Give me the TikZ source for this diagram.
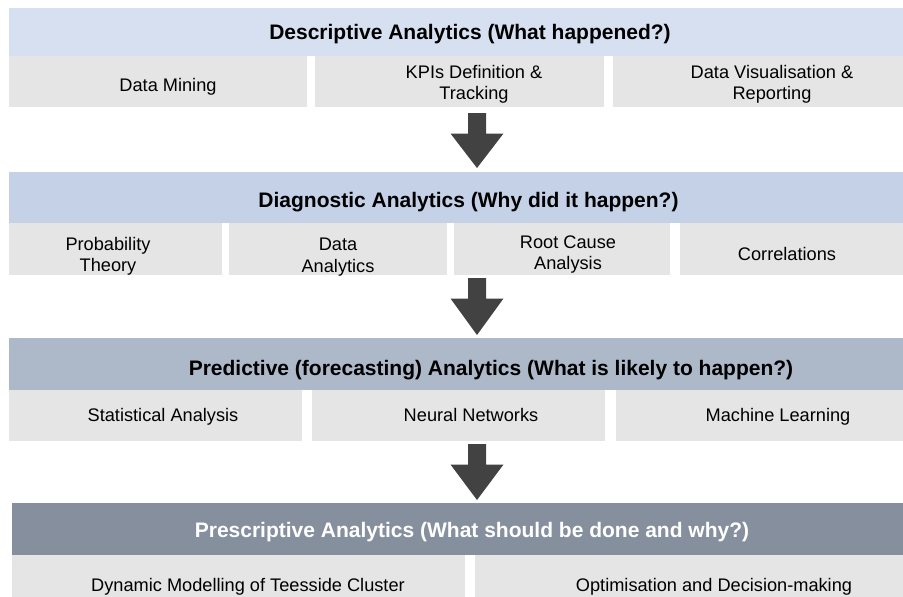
\documentclass[tikz,border=0pt]{standalone}
\usepackage{fontspec}
\setmainfont{Liberation Sans}
\usetikzlibrary{calc}
\definecolor{hdrA}{RGB}{214,224,240}
\definecolor{hdrB}{RGB}{196,209,230}
\definecolor{hdrC}{RGB}{173,184,201}
\definecolor{hdrD}{RGB}{134,143,158}
\definecolor{subgrey}{RGB}{229,229,229}
\definecolor{arrowgrey}{RGB}{66,66,66}
\tikzset{
  band/.style={rectangle, draw=none, inner sep=0pt, outer sep=0pt},
  subbox/.style={rectangle, fill=subgrey, draw=none, inner sep=0pt, outer sep=0pt},
  hdrtext/.style={inner sep=0pt, font=\fontsize{21}{25}\selectfont\bfseries},
  subtext/.style={inner sep=0pt, align=center, font=\fontsize{18.2}{21.5}\selectfont},
  blockarrowfill/.style={fill=arrowgrey}
}
\newcommand\blockarrowdraw[2]{%
  \fill[blockarrowfill] ($(#1)+(-9,0)$) -- ($(#1)+(9,0)$) -- ($(#1)+(9,20.5)$) -- ($(#1)+(26.5,20.5)$) -- (#2) -- ($(#1)+(-26.5,20.5)$) -- ($(#1)+(-9,20.5)$) -- cycle;}
\begin{document}
\begin{tikzpicture}[x=1pt,y=-1pt]
\useasboundingbox (0,0) rectangle (903,597);
% Band 1
\node[band, fill=hdrA, minimum width=894pt, minimum height=48pt] (h1) at (456,32) {};
\node[hdrtext] (t1) at (470,34.5) {Descriptive Analytics (What happened?)};
\node[subbox, minimum width=298pt, minimum height=51pt] (b11) at (158,81.5) {};
\node[subbox, minimum width=289pt, minimum height=51pt] (b12) at (459.5,81.5) {};
\node[subbox, minimum width=290pt, minimum height=51pt] (b13) at (758,81.5) {};
\node[subtext] (s11) at (168,87) {Data Mining};
\node[subtext] (s12) at (474,84.5) {KPIs Definition \&\\Tracking};
\node[subtext] (s13) at (772,84.5) {Data Visualisation \&\\Reporting};
% Arrow 1
\coordinate (a1s) at (477,113);
\coordinate (a1e) at (477,168);
\blockarrowdraw{a1s}{a1e}
% Band 2
\node[band, fill=hdrB, minimum width=894pt, minimum height=51pt] (h2) at (456,197.5) {};
\node[hdrtext] (t2) at (468.5,202) {Diagnostic Analytics (Why did it happen?)};
\node[subbox, minimum width=213pt, minimum height=52pt] (b21) at (115.5,249) {};
\node[subbox, minimum width=218pt, minimum height=52pt] (b22) at (338,249) {};
\node[subbox, minimum width=216pt, minimum height=52pt] (b23) at (562,249) {};
\node[subbox, minimum width=223pt, minimum height=52pt] (b24) at (791.5,249) {};
\node[subtext] (s21) at (108,256.5) {Probability\\Theory};
\node[subtext] (s22) at (338,257) {Data\\Analytics};
\node[subtext] (s23) at (568,254.5) {Root Cause\\Analysis};
\node[subtext] (s24) at (787,254) {Correlations};
% Arrow 2
\coordinate (a2s) at (477,278);
\coordinate (a2e) at (477,335);
\blockarrowdraw{a2s}{a2e}
% Band 3
\node[band, fill=hdrC, minimum width=894pt, minimum height=52pt] (h3) at (456,364) {};
\node[hdrtext] (t3) at (491,370) {Predictive (forecasting) Analytics (What is likely to happen?)};
\node[subbox, minimum width=293pt, minimum height=51pt] (b31) at (155.5,415.5) {};
\node[subbox, minimum width=293pt, minimum height=51pt] (b32) at (458.5,415.5) {};
\node[subbox, minimum width=287pt, minimum height=51pt] (b33) at (759.5,415.5) {};
\node[subtext] (s31) at (163,416.5) {Statistical Analysis};
\node[subtext] (s32) at (471,415) {Neural Networks};
\node[subtext] (s33) at (778,416.5) {Machine Learning};
% Arrow 3
\coordinate (a3s) at (477,444);
\coordinate (a3e) at (477,500);
\blockarrowdraw{a3s}{a3e}
% Band 4
\node[band, fill=hdrD, minimum width=891pt, minimum height=52pt] (h4) at (457.5,529) {};
\node[hdrtext, text=white] (t4) at (472,532.5) {Prescriptive Analytics (What should be done and why?)};
\node[subbox, minimum width=453pt, minimum height=42pt] (b41) at (238.5,576) {};
\node[subbox, minimum width=428pt, minimum height=42pt] (b42) at (689,576) {};
\node[subtext] (s41) at (248,587) {Dynamic Modelling of Teesside Cluster};
\node[subtext] (s42) at (714,587) {Optimisation and Decision-making};
\end{tikzpicture}
\end{document}
